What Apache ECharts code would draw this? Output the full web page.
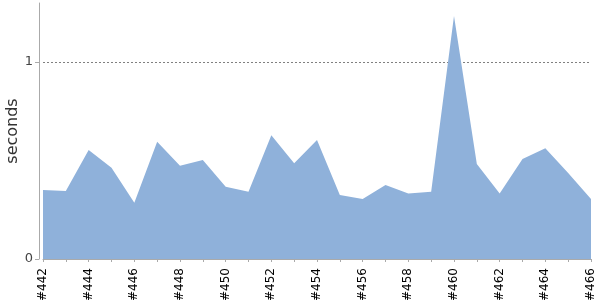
<!DOCTYPE html>
<html><head><meta charset="utf-8">
<script src="https://cdn.jsdelivr.net/npm/echarts@6/dist/echarts.min.js"></script>
<style>html,body{margin:0;padding:0;background:#fff}#c{width:600px;height:300px}</style>
</head><body><div id="c"></div>
<script>
var builds = [442,443,444,445,446,447,448,449,450,451,452,453,454,455,456,457,458,459,460,461,462,463,464,465,466];
var durations = [0.350,0.345,0.553,0.463,0.286,0.595,0.474,0.503,0.367,0.342,0.629,0.486,0.604,0.325,0.305,0.376,0.333,0.342,1.234,0.482,0.333,0.508,0.562,0.437,0.305];
var yTicks = [0, 1];
var yAxisName = 'seconds';

var chart = echarts.init(document.getElementById('c'), null, {renderer:'canvas'});
chart.setOption({
  animation:false,
  grid:{left:43, right:9, top:3, bottom:41, containLabel:false, outerBoundsMode:'none'},
  xAxis:{
    type:'value', min:builds[0], max:builds[builds.length-1], interval:1, offset:4,
    axisLine:{lineStyle:{color:'#aaaaaa'}},
    axisTick:{length:3, lineStyle:{color:'#aaaaaa'}},
    splitLine:{show:false},
    axisLabel:{rotate:90, fontSize:12, color:'#000', fontFamily:'DejaVu Sans', margin:5,
      formatter:function(v){ return (v%2===0) ? '#'+v : ''; }}
  },
  yAxis:{
    type:'value', min:0, max:1.3, interval:1, offset:4,
    name:yAxisName, nameLocation:'middle', nameGap:18, nameMoveOverlap:false,
    nameTextStyle:{fontSize:16, color:'#333', fontFamily:'DejaVu Sans'},
    axisLine:{show:true, lineStyle:{color:'#aaaaaa'}},
    axisTick:{show:true, length:4, lineStyle:{color:'#aaaaaa'}},
    axisLabel:{fontSize:13, color:'#444', fontFamily:'DejaVu Sans', margin:6, showMaxLabel:false,
      formatter:function(v){ return yTicks.indexOf(v)>=0 ? String(v) : ''; }},
    splitLine:{show:true, showMinLine:false, showMaxLine:false, lineStyle:{color:'#808080', type:[2,2], width:1}}
  },
  series:[{
    type:'line', data:builds.map(function(b,i){return [b, durations[i]];}),
    symbol:'none', lineStyle:{width:0}, areaStyle:{color:'#8fb1da', opacity:1}, z:1
  }]
});
</script></body></html>
